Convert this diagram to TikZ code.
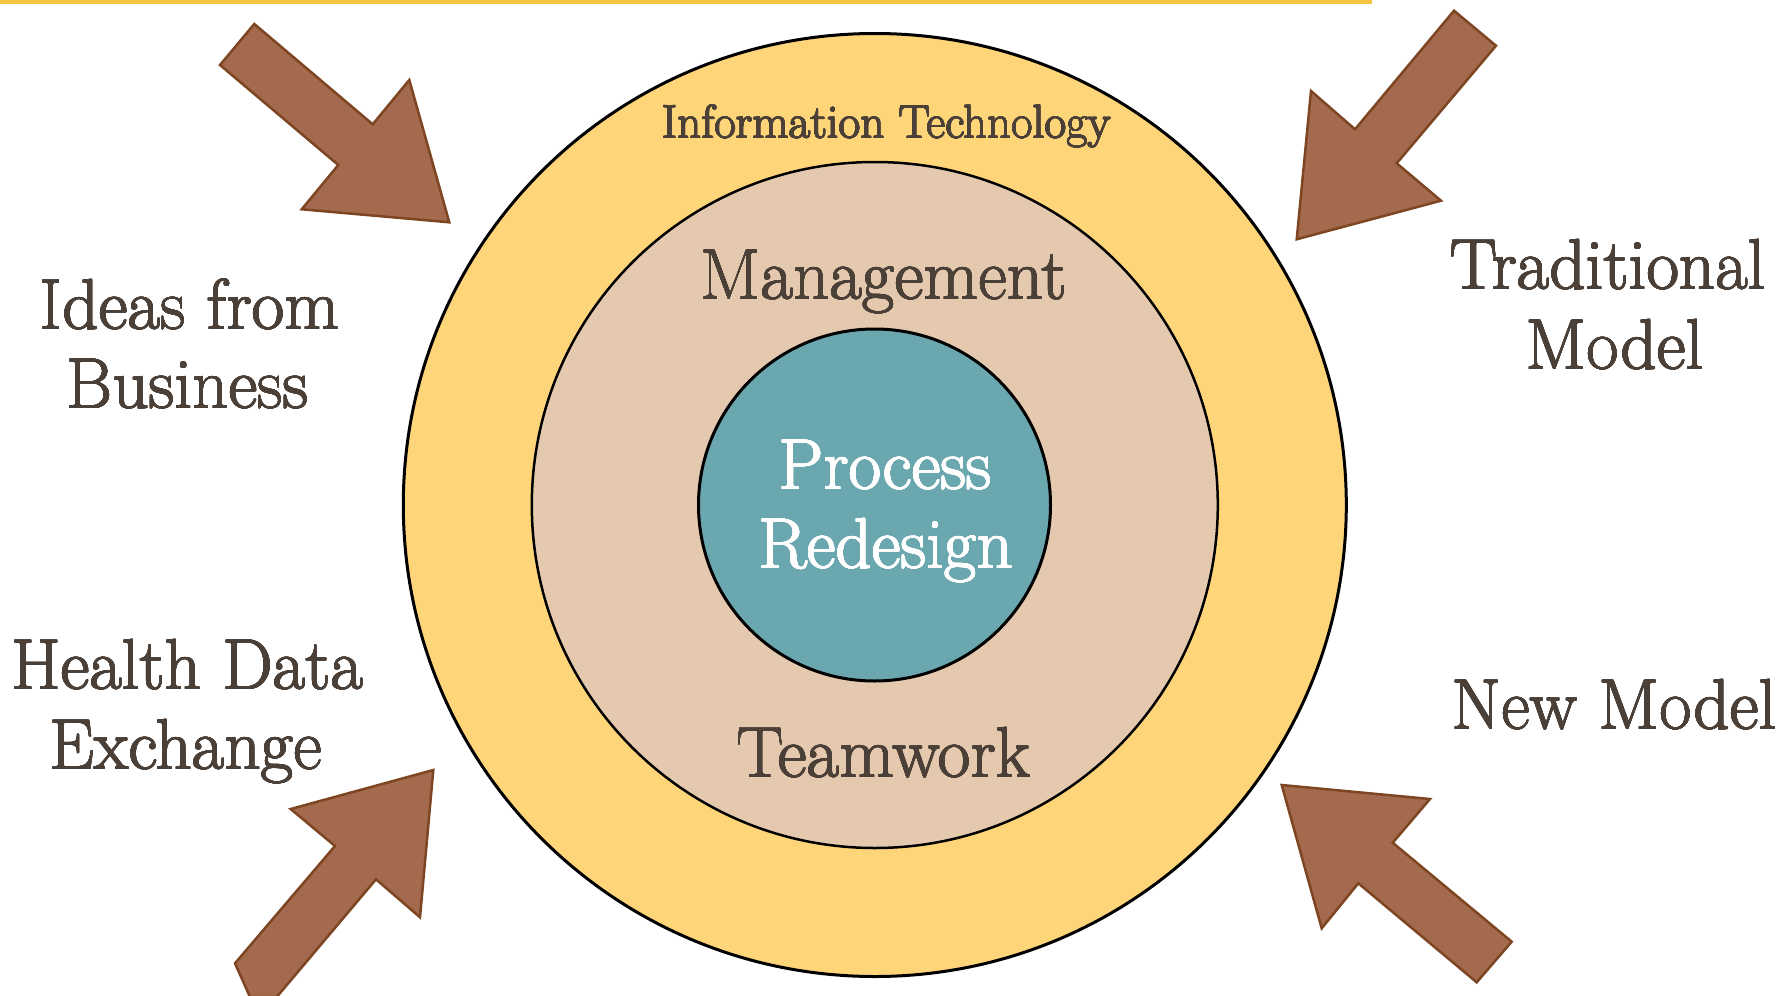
\documentclass[tikz,border=0pt]{standalone}
\usepackage[copies]{contour}
\contournumber{16}
\definecolor{ityellow}{HTML}{FFD57A}
\definecolor{mgmttan}{HTML}{E4C9AE}
\definecolor{coreteal}{HTML}{6BA7AF}
\definecolor{txtdark}{HTML}{4B4038}
\definecolor{arrowfill}{HTML}{A46A4D}
\definecolor{arrowline}{HTML}{7E4522}
\definecolor{topline}{HTML}{F5C342}
\newcommand{\thk}[2]{\contourlength{0.4pt}\contour{#1}{#2}}
\tikzset{
  ring/.style={circle, draw=black, line width=3pt, inner sep=0pt},
  bigarrow/.style={fill=arrowfill, draw=arrowline, line width=2.5pt, line join=miter},
  biglabel/.style={anchor=base, inner sep=0pt, text=txtdark, font=\fontsize{71}{79}\selectfont},
  corelabel/.style={anchor=base, inner sep=0pt, text=white, font=\fontsize{71}{79}\selectfont},
  smalllabel/.style={anchor=base, inner sep=0pt, text=txtdark, font=\fontsize{47}{54}\selectfont}
}
\begin{document}
\begin{tikzpicture}[x=1pt,y=-1pt]
\useasboundingbox (0,0) rectangle (1786,996);
% top rule
\coordinate (tl) at (0,1.75);
\coordinate (tr) at (1372,1.75);
\draw[topline, line width=3.5pt] (tl) -- (tr);
% circles
\node[ring, fill=ityellow, minimum size=943pt] (outer) at (874.8,505) {};
\node[ring, fill=mgmttan, line width=2.5pt, minimum size=686pt] (middle) at (874.8,505) {};
\node[ring, fill=coreteal, minimum size=352pt] (inner) at (874.5,505) {};
% arrows
\draw[bigarrow] (254.3,24) -- (372.7,124.3) -- (409.3,80) -- (449.3,222.3) -- (301.7,209.3) -- (338.3,165) -- (220,65) -- cycle;
\draw[bigarrow] (1454,10.7) -- (1496,45.7) -- (1396.7,163.3) -- (1441,200.7) -- (1296.7,239.3) -- (1311,91) -- (1355,129.3) -- cycle;
\draw[bigarrow] (235,963.3) -- (335,846) -- (290.7,809) -- (433.3,770) -- (420,917.3) -- (376,879.3) -- (276.7,997) -- (250,997) -- cycle;
\draw[bigarrow] (1281.7,785) -- (1430,799) -- (1392.7,842.7) -- (1511.7,941.7) -- (1476.7,982.3) -- (1358.3,883.3) -- (1321.7,928.3) -- cycle;
% labels
\node[smalllabel] (it) at (886.5,138) {\thk{txtdark}{Information Technology}};
\node[biglabel] (mgmt) at (883.7,299) {\thk{txtdark}{Management}};
\node[biglabel] (team) at (883.4,777) {\thk{txtdark}{Teamwork}};
\node[corelabel] (proc) at (885.5,489) {\thk{white}{Process}};
\node[corelabel] (redes) at (886,568) {\thk{white}{Redesign}};
\node[biglabel] (ideas) at (189.5,329) {\thk{txtdark}{Ideas from}};
\node[biglabel] (business) at (187.5,408) {\thk{txtdark}{Business}};
\node[biglabel] (trad) at (1608,289) {\thk{txtdark}{Traditional}};
\node[biglabel] (tmodel) at (1615,369) {\thk{txtdark}{Model}};
\node[biglabel] (health) at (187.5,689) {\thk{txtdark}{Health Data}};
\node[biglabel] (exch) at (186,769) {\thk{txtdark}{Exchange}};
\node[biglabel] (newm) at (1614.5,729) {\thk{txtdark}{New Model}};
\end{tikzpicture}
\end{document}
